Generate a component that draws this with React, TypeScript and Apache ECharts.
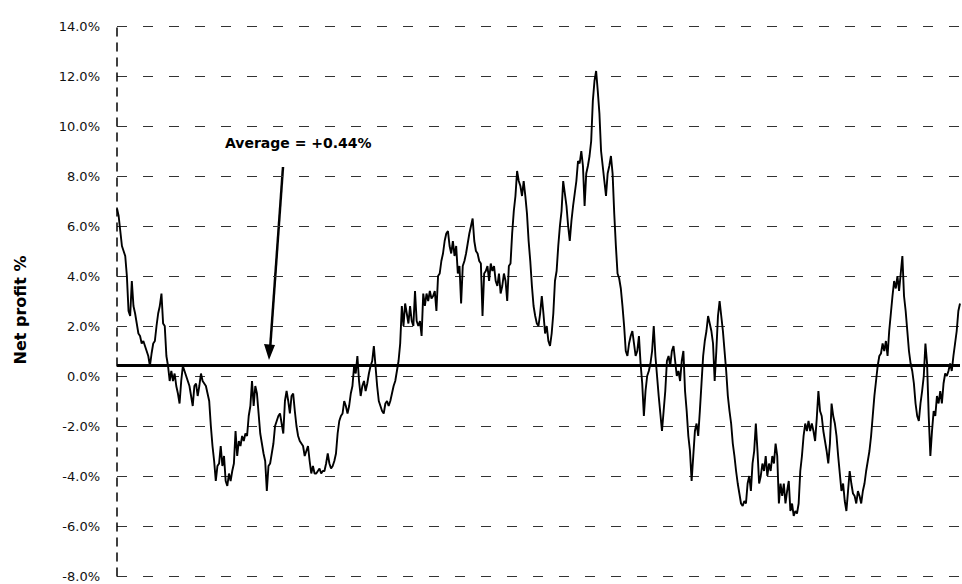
import React, { useEffect, useRef } from "react";
import * as echarts from "echarts";

// Net profit % readings, left to right, split in five stretches
const netProfitA = [
  6.7, 6.4, 5.8, 5.2, 5.0, 4.8, 4.0, 2.6, 2.4, 3.8,
  2.8, 2.5, 2.1, 1.7, 1.6, 1.3, 1.4, 1.2, 1.0, 0.8,
  0.4, 0.9, 1.3, 1.4, 2.0, 2.5, 2.8, 3.3, 2.1, 2.0,
  0.8, 0.4, -0.2, 0.2, -0.2, 0.1, -0.4, -0.7, -1.1, -0.2,
  0.4, 0.2, 0.0, -0.2, -0.4, -0.8, -1.2, -0.4, -0.3, -0.8,
  -0.4, 0.1, -0.2, -0.3, -0.4, -0.7, -1.0, -2.0, -2.8, -3.4,
  -4.2, -3.6, -3.5, -2.8, -3.6, -3.2, -4.2, -4.4, -3.9, -4.2,
  -3.8, -3.5, -2.2, -3.2, -2.6, -2.8, -2.4, -2.6, -2.3, -2.4,
  -1.6, -1.2, -0.2, -1.2, -0.4, -0.7, -1.5, -2.3, -2.7, -3.1,
  -3.4, -4.6, -3.6, -3.5, -3.1, -2.7, -2.0, -1.8, -1.6, -1.5,
];
const netProfitB = [
  -1.9, -2.3, -1.0, -0.6, -1.0, -1.5, -0.8, -0.7, -1.4, -2.0,
  -2.4, -2.6, -2.7, -2.8, -3.2, -3.0, -2.8, -3.4, -3.9, -3.6,
  -3.9, -3.9, -3.8, -3.7, -3.9, -3.8, -3.8, -3.5, -3.1, -3.5,
  -3.7, -3.6, -3.4, -3.1, -2.3, -1.8, -1.6, -1.5, -1.0, -1.2,
  -1.5, -1.2, -0.7, -0.4, 0.4, 0.1, 0.8, -0.2, -0.8, -0.4,
  -0.2, -0.6, -0.3, 0.1, 0.4, 0.6, 1.2, 0.4, -0.4, -1.0,
  -1.2, -1.4, -1.5, -1.1, -1.0, -1.2, -1.0, -0.7, -0.4, -0.2,
  0.2, 0.6, 1.3, 2.8, 2.0, 2.9, 2.5, 2.1, 2.8, 2.2,
  2.0, 3.4, 2.2, 2.0, 2.2, 1.6, 3.3, 2.8, 3.3, 3.0,
  3.4, 3.1, 3.2, 3.4, 2.6, 4.0,
];
const netProfitC = [
  4.1, 4.6, 4.9, 5.4, 5.7, 5.8, 5.2, 4.9, 5.4, 4.8,
  5.2, 4.1, 4.4, 2.9, 4.4, 4.6, 4.9, 5.3, 5.7, 6.0,
  6.3, 5.4, 5.0, 4.9, 4.6, 4.5, 2.4, 4.1, 4.2, 4.4,
  3.8, 4.5, 4.2, 4.4, 3.8, 3.6, 4.1, 3.3, 3.6, 4.1,
  3.8, 3.0, 4.4, 4.5, 5.7, 6.6, 7.2, 8.2, 7.8, 7.6,
  7.2, 7.8, 7.2, 6.5, 5.4, 4.6, 3.6, 2.8, 2.4, 2.1,
  2.0, 2.5, 3.2, 2.5, 1.7, 2.0, 1.4, 1.2, 1.7, 2.5,
  3.8, 4.2, 5.2, 6.0, 6.6, 7.8, 7.3, 6.8, 6.0, 5.4,
  6.2, 6.8, 7.3, 7.8, 8.6, 8.5, 9.0, 8.4, 6.8, 8.1,
  8.4, 8.8, 9.4, 11.0, 11.8, 12.2, 11.4, 10.5, 9.0, 8.4,
  7.8, 7.2, 8.1, 8.4, 8.8, 8.1, 6.5, 5.2, 4.1,
];
const netProfitD = [
  3.9, 3.5, 2.8, 2.0, 1.0, 0.8, 1.3, 1.6, 1.8, 1.3,
  0.8, 1.0, 1.6, 0.5, -0.3, -1.6, -0.6, 0.0, 0.2, 0.5,
  1.0, 2.0, 0.8, 0.0, -0.8, -1.5, -2.2, -1.4, -0.6, 0.6,
  0.8, 0.4, 1.0, 1.2, 0.6, 0.0, 0.2, -0.2, 0.6, 1.0,
  -0.6, -1.4, -2.4, -3.0, -4.2, -3.2, -2.2, -1.9, -2.4, -1.4,
  -0.3, 0.8, 1.4, 1.8, 2.4, 2.1, 1.8, 1.3, -0.2, 1.0,
  2.4, 3.0, 2.4, 1.8, 1.0, 0.2, -0.8, -1.4, -1.9, -2.7,
  -3.2, -3.8, -4.3, -4.7, -5.1, -5.2, -5.0, -5.1, -4.3, -4.0,
  -4.6, -3.5, -3.0, -1.9, -3.0, -4.3, -4.0, -3.5, -3.8, -3.2,
  -4.0, -3.5, -3.8, -3.2, -3.5, -2.7, -3.2, -5.1, -4.3, -4.8,
  -4.3, -5.1, -4.6, -4.2, -5.4,
];
const netProfitE = [
  -5.1, -5.6, -5.4, -5.5, -5.1, -3.8, -3.2, -2.4, -1.9, -2.2,
  -1.8, -2.2, -1.9, -2.2, -2.6, -1.7, -0.6, -1.4, -1.6, -2.2,
  -2.6, -3.0, -3.5, -2.7, -1.1, -1.6, -1.9, -2.4, -3.2, -3.9,
  -4.6, -4.3, -5.0, -5.4, -4.6, -3.8, -4.3, -4.7, -4.8, -5.1,
  -4.6, -4.8, -5.1, -4.6, -4.3, -3.8, -3.4, -3.0, -2.4, -1.6,
  -0.8, -0.2, 0.4, 0.8, 0.9, 1.3, 1.0, 1.4, 0.8, 1.8,
  2.5, 3.2, 3.8, 3.5, 4.0, 3.4, 4.1, 4.8, 3.2, 2.6,
  1.8, 1.0, 0.5, 0.2, -0.3, -1.1, -1.6, -1.8, -1.1, -0.6,
  0.0, 1.3, 0.5, -1.6, -3.2, -2.2, -1.4, -1.6, -0.8, -1.1,
  -0.6, -1.1, -0.3, 0.1, 0.0, 0.2, 0.5, 0.2, 0.8, 1.3,
  1.8, 2.6, 2.9,
];

const netProfit = [...netProfitA, ...netProfitB, ...netProfitC, ...netProfitD, ...netProfitE];
const periods = netProfit.map((_, i) => String(i + 1));

const yMin = -8;
const yMax = 14;
const yStep = 2;
const averageValue = 0.44;
const averageLabel = "Average = +0.44%";
const axisTitle = "Net profit %";

export default function App() {
  const ref = useRef<HTMLDivElement>(null);

  useEffect(() => {
    if (!ref.current) return;
    const chart = echarts.init(ref.current, null, { renderer: "svg" });
    chart.setOption({
      animation: false,
      backgroundColor: "#ffffff",
      grid: { left: 117, right: 2, top: 26, bottom: 8, containLabel: false },
      xAxis: {
        type: "category",
        data: periods,
        boundaryGap: false,
        axisLine: { show: false },
        axisTick: { show: false },
        axisLabel: { show: false },
        splitLine: { show: false },
      },
      yAxis: {
        type: "value",
        min: yMin,
        max: yMax,
        interval: yStep,
        axisLine: {
          show: true,
          lineStyle: { color: "#000", width: 1.5, type: [8, 7] },
        },
        axisTick: { show: false },
        axisLabel: {
          margin: 17,
          color: "#111",
          fontSize: 13,
          fontFamily: "DejaVu Sans",
          formatter: (v: number) => v.toFixed(1) + "%",
        },
        splitLine: {
          show: true,
          lineStyle: { color: "#333", width: 1, type: [10, 16] },
        },
      },
      series: [
        {
          type: "line",
          data: netProfit,
          showSymbol: false,
          symbol: "none",
          lineStyle: { color: "#000", width: 1.9 },
          markLine: {
            silent: true,
            symbol: "none",
            label: { show: false },
            lineStyle: { color: "#000", width: 3, type: "solid" },
            data: [{ yAxis: averageValue }],
          },
        },
      ],
      graphic: [
        {
          type: "text",
          x: 20,
          y: 310,
          rotation: Math.PI / 2,
          style: {
            text: axisTitle,
            fontSize: 16,
            fontWeight: "bold",
            fontFamily: "DejaVu Sans",
            fill: "#000",
            align: "center",
            verticalAlign: "middle",
          },
        },
        {
          type: "text",
          x: 225,
          y: 143,
          style: {
            text: averageLabel,
            fontSize: 14,
            fontWeight: "bold",
            fontFamily: "DejaVu Sans",
            fill: "#000",
            align: "left",
            verticalAlign: "middle",
          },
        },
        {
          type: "line",
          shape: { x1: 283, y1: 167, x2: 270, y2: 350 },
          style: { stroke: "#000", lineWidth: 2.5 },
        },
        {
          type: "polygon",
          shape: { points: [[264, 344], [275, 345], [269, 360]] },
          style: { fill: "#000" },
        },
      ],
    });
    return () => chart.dispose();
  }, []);

  return (
    <div
      ref={ref}
      style={{ position: "fixed", left: 0, top: 0, width: 962, height: 584 }}
    />
  );
}
